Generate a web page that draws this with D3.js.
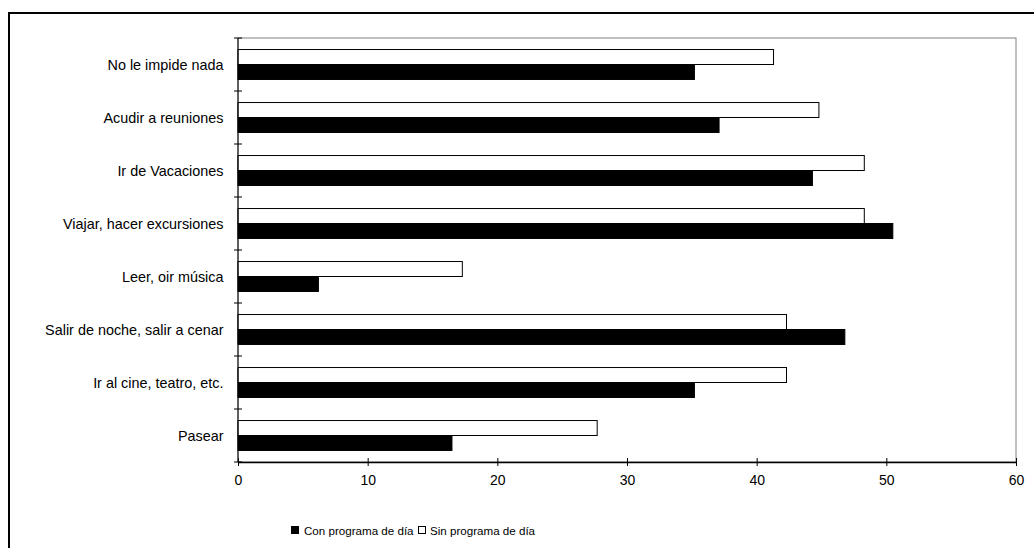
<!DOCTYPE html>
<html><head><meta charset="utf-8">
<script src="https://cdn.jsdelivr.net/npm/d3@7"></script>
<style>body{margin:0;background:#fff}svg{display:block}text{font-family:"Liberation Sans",Arial,sans-serif;fill:#000}</style>
</head><body><svg id="c" width="1034" height="548"></svg>
<script>
const categories = ["No le impide nada","Acudir a reuniones","Ir de Vacaciones","Viajar, hacer excursiones","Leer, oir música","Salir de noche, salir a cenar","Ir al cine, teatro, etc.","Pasear"];
const conPrograma = [35.2, 37.1, 44.3, 50.5, 6.2, 46.8, 35.2, 16.5];
const sinPrograma = [41.3, 44.8, 48.3, 48.3, 17.3, 42.3, 42.3, 27.7];
const xTicks = [0,10,20,30,40,50,60];
const seriesNames = ["Con programa de día","Sin programa de día"];

const svg = d3.select("#c");
// outer frame
svg.append("rect").attr("x",9).attr("y",13).attr("width",1040).attr("height",560)
  .attr("fill","none").attr("stroke","#000").attr("stroke-width",2);

const L=238, R=1016, T=38, B=462;
const x = d3.scaleLinear().domain([0,60]).range([L,R]);
const y = d3.scaleBand().domain(categories).range([T,B]);
const inner = d3.scaleBand().domain(["sin","con"]).range([0,y.bandwidth()]).paddingOuter(0.77).paddingInner(0);

// plot area border (gray)
svg.append("rect").attr("x",L).attr("y",T).attr("width",R-L).attr("height",B-T)
  .attr("fill","none").attr("stroke","#808080").attr("stroke-width",1);

const g = svg.append("g");
categories.forEach((c,i)=>{
  g.append("rect").attr("x",L).attr("y",y(c)+inner("sin"))
    .attr("width",x(sinPrograma[i])-L).attr("height",inner.bandwidth())
    .attr("fill","#fff").attr("stroke","#000").attr("stroke-width",1);
  g.append("rect").attr("x",L).attr("y",y(c)+inner("con"))
    .attr("width",x(conPrograma[i])-L).attr("height",inner.bandwidth())
    .attr("fill","#000").attr("stroke","#000").attr("stroke-width",1);
});

// left axis
const yTickPos = d3.range(categories.length+1).map(i=>T+i*y.step());
svg.append("line").attr("x1",L).attr("x2",L).attr("y1",T).attr("y2",B).attr("stroke","#000");
yTickPos.forEach(p=>svg.append("line").attr("x1",L-4).attr("x2",L+4).attr("y1",p).attr("y2",p).attr("stroke","#000"));
categories.forEach(c=>svg.append("text").attr("x",223.5).attr("y",y(c)+y.bandwidth()/2+5)
  .attr("text-anchor","end").attr("font-size",14.4).text(c));

// bottom axis
const xAxis = d3.axisBottom(x).tickValues(xTicks).tickSize(4).tickSizeOuter(0).tickPadding(9);
const ax = svg.append("g").attr("transform",`translate(0,${B})`).call(xAxis);
ax.select(".domain").attr("stroke","#000").attr("stroke-width",1.5);
ax.selectAll(".tick line").attr("y1",-4).attr("y2",4).attr("stroke","#000");
ax.selectAll(".tick text").attr("font-size",14).attr("font-family","Liberation Sans, Arial, sans-serif").attr("fill","#000");

// legend
const lg = svg.append("g");
lg.append("rect").attr("x",291.5).attr("y",526.5).attr("width",7).attr("height",7).attr("fill","#000").attr("stroke","#000");
lg.append("text").attr("x",304).attr("y",535).attr("font-size",11.6).text(seriesNames[0]);
lg.append("rect").attr("x",418.5).attr("y",526.5).attr("width",7).attr("height",7).attr("fill","#fff").attr("stroke","#000");
lg.append("text").attr("x",430).attr("y",535).attr("font-size",11.6).text(seriesNames[1]);
</script></body></html>
